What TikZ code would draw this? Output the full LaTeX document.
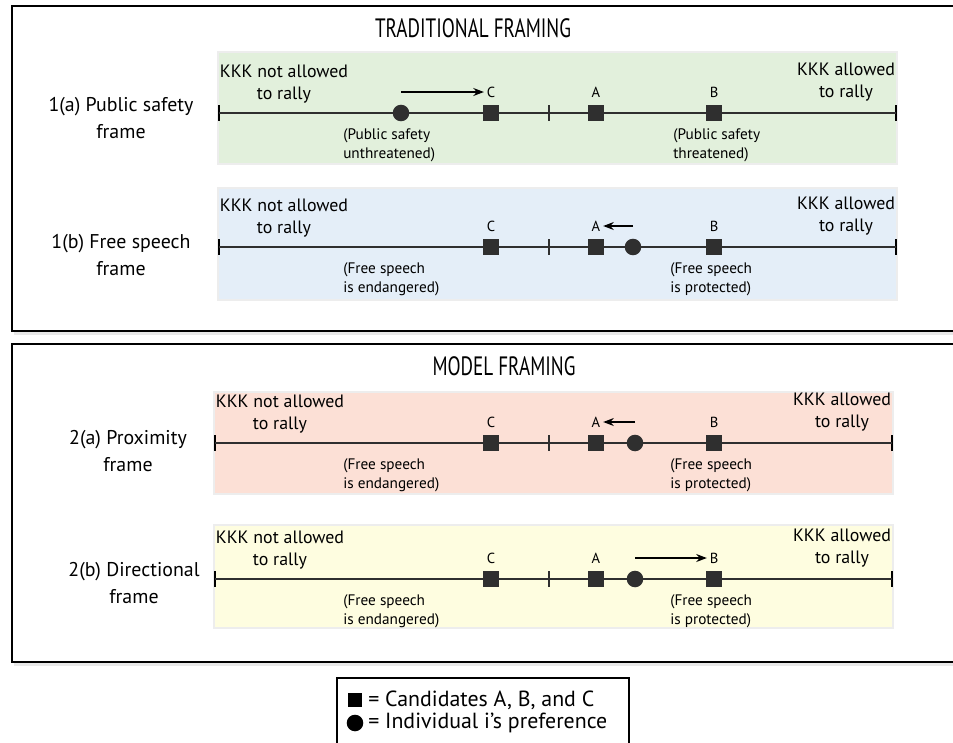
\documentclass[tikz,border=0pt]{standalone}
\usepackage{fontspec}
\setmainfont{PT Sans}
\newfontfamily\narrowfont[FakeStretch=0.72]{PT Sans}
\usetikzlibrary{arrows.meta,shadows}

\definecolor{safetygreen}{HTML}{E2F0DC}
\definecolor{speechblue}{HTML}{E4EEF8}
\definecolor{proxpink}{HTML}{FCE0D6}
\definecolor{diryellow}{HTML}{FEFDE0}
\definecolor{marker}{HTML}{2F2F2F}

\begin{document}
\begin{tikzpicture}[x=0.0265cm, y=-0.0265cm,
    >={Stealth[length=8pt,width=6pt]},
    framebox/.style={draw=black, line width=1.1pt, fill=white,
      drop shadow={shadow xshift=1.5pt, shadow yshift=-3pt, opacity=0.18}},
    panel/.style={draw=black!7, line width=0.8pt},
    axis/.style={draw=marker, line width=1pt},
    endtick/.style={rectangle, fill=black, minimum width=2.2pt, minimum height=12pt, inner sep=0pt},
    midtick/.style={rectangle, fill=marker, minimum width=1.5pt, minimum height=12pt, inner sep=0pt},
    cand/.style={rectangle, fill=marker, minimum size=12pt, inner sep=0pt},
    pref/.style={circle, fill=marker, minimum size=12.5pt, inner sep=0pt},
    letter/.style={font=\fontsize{11}{13}\selectfont, inner sep=1pt},
    endlabel/.style={align=center, font=\fontsize{13.5}{17}\selectfont, inner sep=0pt},
    rowlabel/.style={align=center, font=\fontsize{15}{20}\selectfont, inner sep=0pt},
    note/.style={align=left, anchor=west, font=\fontsize{11.5}{14.5}\selectfont, inner sep=0pt},
    heading/.style={font=\narrowfont\fontsize{20}{22}\selectfont, inner sep=0pt},
    move/.style={->, line width=1.1pt, shorten >=1pt}]
  \useasboundingbox (0,0) rectangle (953,742);

  % the two framing boxes
  \draw[framebox] (12,6) rectangle (985,331);
  \draw[framebox] (12,344) rectangle (985,662);
  \node[heading] (trad) at (473,28) {TRADITIONAL FRAMING};
  \node[heading] (model) at (504,366) {MODEL FRAMING};

  % one line per frame
  \foreach \r/\ax/\pt/\pb/\pl/\pr/\col in {1/113/52/164/218/897/safetygreen,
      2/247/188/300/218/897/speechblue, 3/443/392/494/214/893/proxpink,
      4/579/525/628/214/893/diryellow}{
    \draw[panel, fill=\col] (\pl,\pt) rectangle (\pr,\pb);
    \node[endtick] (lo\r) at (\pl+1,\ax) {};
    \node[endtick] (hi\r) at (\pr-1,\ax) {};
    \node[midtick] (mid\r) at (549,\ax) {};
    \draw[axis] (lo\r.center) -- (hi\r.center);
    \foreach \c/\x in {C/491,A/596,B/714}{
      \node[cand] (\c\r) at (\x,\ax) {};
      \node[letter] (lbl\c\r) at (\x,\ax-21) {\c};
    }
    \node[endlabel] (notallowed\r) at (\pl+66,\ax-29) {KKK not allowed\\to rally};
    \node[endlabel] (allowed\r) at (\pr-51,\ax-31) {KKK allowed\\to rally};
  }

  % 1(a)
  \node[rowlabel] (frame1) at (121,118) {1(a) Public safety\\frame};
  \node[pref] (pref1) at (401,113) {};
  \node[note] (low1) at (343,145) {(Public safety\\unthreatened)};
  \node[note] (high1) at (673,145) {(Public safety\\threatened)};
  \draw[move] (pref1 |- lblC1.west) -- (lblC1.west);

  % 1(b)
  \node[rowlabel] (frame2) at (121,255) {1(b) Free speech\\frame};
  \node[pref] (pref2) at (633,247) {};
  \node[note] (low2) at (343,279) {(Free speech\\is endangered)};
  \node[note] (high2) at (670,279) {(Free speech\\is protected)};
  \draw[move] (pref2 |- lblA2.east) -- (lblA2.east);

  % 2(a)
  \node[rowlabel] (frame3) at (128,451) {2(a) Proximity\\frame};
  \node[pref] (pref3) at (635,443) {};
  \node[note] (low3) at (343,475) {(Free speech\\is endangered)};
  \node[note] (high3) at (670,475) {(Free speech\\is protected)};
  \draw[move] (pref3 |- lblA3.east) -- (lblA3.east);

  % 2(b)
  \node[rowlabel] (frame4) at (134,583) {2(b) Directional\\frame};
  \node[pref] (pref4) at (635,579) {};
  \node[note] (low4) at (343,611) {(Free speech\\is endangered)};
  \node[note] (high4) at (670,611) {(Free speech\\is protected)};
  \draw[move] (pref4 |- lblB4.west) -- (lblB4.west);

  % legend
  \draw[line width=1pt, fill=white] (337,678) rectangle (629,760);
  \node[cand, fill=black, minimum size=11pt] (keycand) at (355,700) {};
  \node[pref, fill=black, minimum size=12.5pt] (keypref) at (355,723) {};
  \node[note, font=\fontsize{16.5}{19}\selectfont] (keycandtxt) at (368,700) {= Candidates A, B, and C};
  \node[note, font=\fontsize{16.5}{19}\selectfont] (keypreftxt) at (368,723) {= Individual i’s preference};
\end{tikzpicture}
\end{document}
